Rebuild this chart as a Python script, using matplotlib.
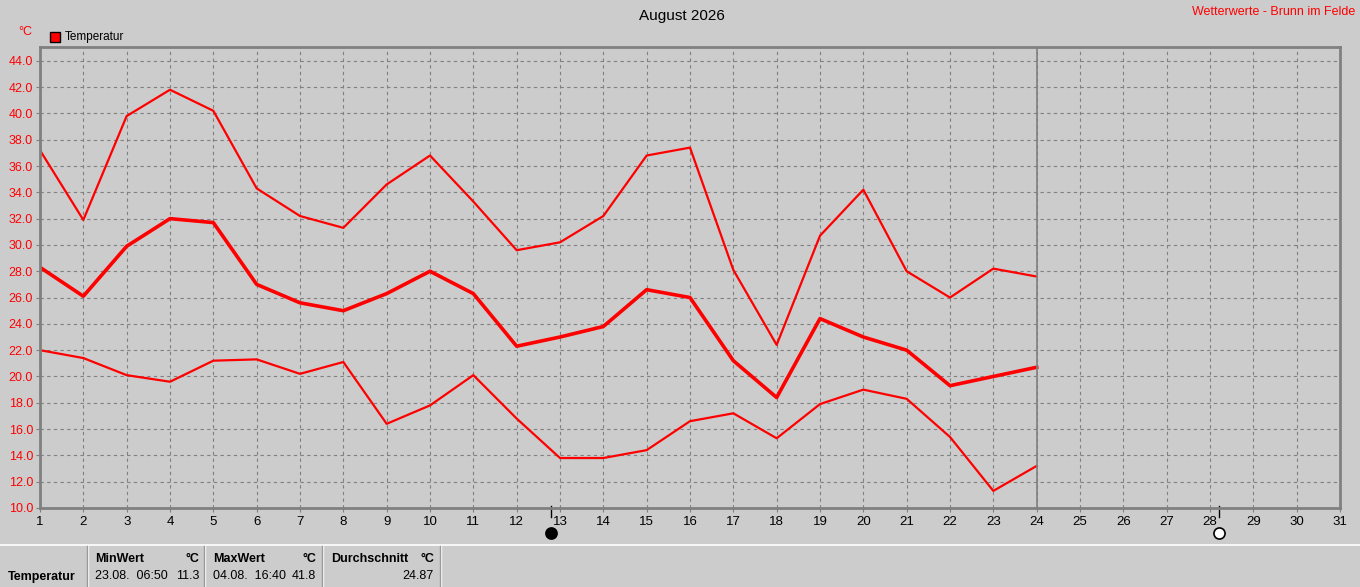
import numpy as np
import matplotlib.pyplot as plt
import matplotlib.transforms as mtransforms
from matplotlib.lines import Line2D

# ───────────────────────────────────────────────────────
# Daten (August 2026, Tag 1..24)
days = list(range(1, 25))
t_max = [37.2, 31.9, 39.8, 41.8, 40.2, 34.3, 32.2, 31.3, 34.6, 36.8, 33.3, 29.6,
         30.2, 32.2, 36.8, 37.4, 28.1, 22.4, 30.7, 34.2, 28.0, 26.0, 28.2, 27.6]
t_avg = [28.3, 26.1, 29.9, 32.0, 31.7, 27.0, 25.6, 25.0, 26.3, 28.0, 26.3, 22.3,
         23.0, 23.8, 26.6, 26.0, 21.2, 18.4, 24.4, 23.0, 22.0, 19.3, 20.0, 20.7]
t_min = [22.0, 21.4, 20.1, 19.6, 21.2, 21.3, 20.2, 21.1, 16.4, 17.8, 20.1, 16.8,
         13.8, 13.8, 14.4, 16.6, 17.2, 15.3, 17.9, 19.0, 18.3, 15.4, 11.3, 13.2]
today = 24
moon_new = 12.8
moon_full = 28.2

bg = "#cccccc"
grid_c = "#808080"

plt.rcParams['font.family'] = ['Liberation Sans', 'DejaVu Sans']

fig = plt.figure(figsize=(13.6, 5.87), dpi=100, facecolor=bg)
W, H = 1360, 587
ax = fig.add_axes([40 / W, (H - 508) / H, 1300 / W, (508 - 47) / H])
ax.set_facecolor(bg)

ax.plot(days, t_max, color="red", lw=1.6)
ax.plot(days, t_avg, color="red", lw=2.6)
ax.plot(days, t_min, color="red", lw=1.6)

ax.set_xlim(1, 31)
ax.set_ylim(10, 45.05)
ax.set_xticks(range(1, 32))
yt = np.arange(10, 44.1, 2)
ax.set_yticks(yt)
ax.set_yticklabels([f"{v:.1f}" for v in yt], color="red")
ax.tick_params(axis="both", length=3, color=grid_c)
ax.tick_params(axis="x", pad=3, labelsize=9.5)
ax.tick_params(axis="y", pad=2, labelsize=9)
ax.grid(True, color=grid_c, ls=(0, (3, 3)), lw=0.8)
for s in ax.spines.values():
    s.set_color(grid_c)
    s.set_linewidth(2)
ax.axvline(today, color=grid_c, lw=1.2)

# Mondphasen
trans = mtransforms.blended_transform_factory(ax.transData, ax.transAxes)
for xm, fc in [(moon_new, "black"), (moon_full, "white")]:
    ax.plot([xm, xm], [0.005, -0.02], color="black", lw=1, transform=trans, clip_on=False)
    ax.plot(xm, -0.055, marker="o", ms=8, mfc=fc, mec="black", mew=1.2,
            transform=trans, clip_on=False)

# Titel und Beschriftungen
fig.text(682 / W, 1 - 16 / H, "August 2026", ha="center", va="center", fontsize=11)
fig.text(1 - 5 / W, 1 - 12 / H, "Wetterwerte - Brunn im Felde", ha="right", va="center",
         fontsize=9, color="red")
fig.text(25 / W, 1 - 32 / H, "°C", ha="center", va="center", fontsize=9, color="red")
fig.patches.append(plt.Rectangle((50 / W, 1 - 42 / H), 10 / W, 10 / H, transform=fig.transFigure,
                                 facecolor="red", edgecolor="black", lw=1))
fig.text(65 / W, 1 - 37 / H, "Temperatur", ha="left", va="center", fontsize=8.5)

# Tabelle unten
fig.add_artist(Line2D([0, 1], [1 - 545 / H, 1 - 545 / H], color="white", lw=1.2))
for xd in [88, 205, 323, 441]:
    fig.add_artist(Line2D([xd / W, xd / W], [0, 1 - 546 / H], color="white", lw=1))
    fig.add_artist(Line2D([(xd - 1) / W, (xd - 1) / W], [0, 1 - 546 / H], color="#999999", lw=1))

fs = 9
y1, y2 = 1 - 559 / H, 1 - 576 / H
fig.text(8 / W, 1 - 577 / H, "Temperatur", fontsize=fs, fontweight="bold", va="center")
fig.text(95 / W, y1, "MinWert", fontsize=fs, fontweight="bold", va="center")
fig.text(199 / W, y1, "°C", fontsize=fs, fontweight="bold", va="center", ha="right")
fig.text(95 / W, y2, "23.08.  06:50", fontsize=fs, va="center")
fig.text(199 / W, y2, "11.3", fontsize=fs, va="center", ha="right")
fig.text(213 / W, y1, "MaxWert", fontsize=fs, fontweight="bold", va="center")
fig.text(316 / W, y1, "°C", fontsize=fs, fontweight="bold", va="center", ha="right")
fig.text(213 / W, y2, "04.08.  16:40", fontsize=fs, va="center")
fig.text(316 / W, y2, "41.8", fontsize=fs, va="center", ha="right")
fig.text(331 / W, y1, "Durchschnitt", fontsize=fs, fontweight="bold", va="center")
fig.text(434 / W, y1, "°C", fontsize=fs, fontweight="bold", va="center", ha="right")
fig.text(434 / W, y2, "24.87", fontsize=fs, va="center", ha="right")

plt.savefig("out.png", dpi=100, facecolor=bg)
plt.close()
